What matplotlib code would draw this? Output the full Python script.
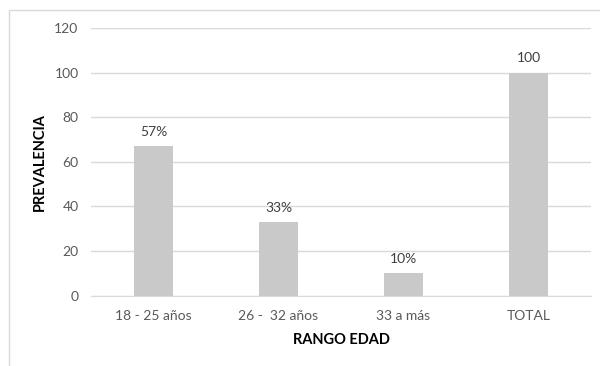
import matplotlib
matplotlib.use("Agg")
import matplotlib.pyplot as plt
from matplotlib.patches import Rectangle

# Prevalence by age range
categories = ["18 - 25 años", "26 -  32 años", "33 a más", "TOTAL"]
values = [67, 33, 10, 100]
value_labels = ["57%", "33%", "10%", "100"]
y_ticks = [0, 20, 40, 60, 80, 100, 120]

plt.rcParams["font.family"] = ["Lato", "DejaVu Sans"]

fig = plt.figure(figsize=(6.0, 3.66), dpi=100)
ax = fig.add_axes([0.1517, 0.192, 0.8333, 0.7315])

# light frame around the whole chart area
fig.patches.append(Rectangle((9 / 600, -0.01), 1.0, 1 - 10 / 366 + 0.01,
                             transform=fig.transFigure, fill=False,
                             edgecolor="#d9d9d9", linewidth=1.0))

x = range(len(categories))
bars = ax.bar(x, values, width=0.312, color="#c9c9c9", zorder=3)

for xi, v, lab in zip(x, values, value_labels):
    ax.annotate(lab, (xi, v), xytext=(0, 6), textcoords="offset points",
                ha="center", va="bottom", fontsize=10, color="#404040")

ax.set_xlim(-0.5, len(categories) - 0.5)
ax.set_ylim(0, 120)
ax.set_yticks(y_ticks)
ax.set_xticks(list(x))
ax.set_xticklabels(categories)
ax.yaxis.grid(True, color="#d9d9d9", linewidth=1.0, zorder=0)
ax.set_axisbelow(True)
for side in ("top", "right", "left"):
    ax.spines[side].set_visible(False)
ax.spines["bottom"].set_color("#d9d9d9")
ax.tick_params(axis="both", length=0, labelsize=10, colors="#595959")
ax.tick_params(axis="y", pad=9)
ax.tick_params(axis="x", pad=10)

ax.set_ylabel("PREVALENCIA", fontsize=10.5, fontweight="bold", color="#000000", labelpad=5)
ax.set_xlabel("RANGO EDAD", fontsize=10.5, fontweight="bold", color="#000000", labelpad=8)

fig.savefig("out.png", dpi=100)
